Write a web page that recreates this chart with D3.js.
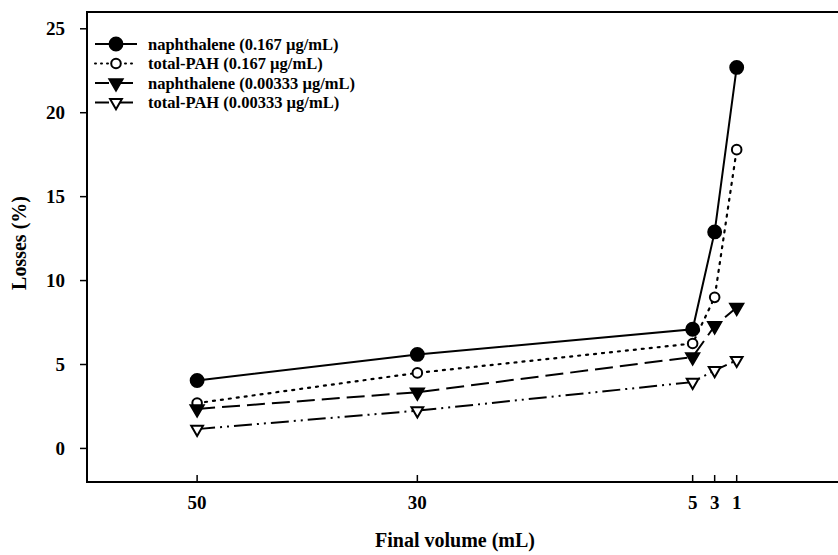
<!DOCTYPE html>
<html>
<head>
<meta charset="utf-8">
<script src="https://cdn.jsdelivr.net/npm/d3@7"></script>
<style>
  body { margin: 0; background: #fff; }
  text { font-family: "Liberation Serif", "DejaVu Serif", serif; font-weight: bold; fill: #000; }
</style>
</head>
<body>
<div id="chart"></div>
<script>
// final volumes (mL) on the x axis
var volumes = [50, 30, 5, 3, 1];
var xTicks = [50, 30, 5, 3, 1];
var yTicks = [0, 5, 10, 15, 20, 25];

// losses (%)
var naph167 = [4.05, 5.6, 7.1, 12.9, 22.7];
var pah167 = [2.7, 4.5, 6.25, 9.0, 17.8];
var naph333 = [2.35, 3.35, 5.45, 7.3, 8.4];
var pah333 = [1.15, 2.25, 3.95, 4.65, 5.25];

var seriesNames = [
    "naphthalene (0.167 \u00b5g/mL)",
    "total-PAH (0.167 \u00b5g/mL)",
    "naphthalene (0.00333 \u00b5g/mL)",
    "total-PAH (0.00333 \u00b5g/mL)"
];

var width = 838, height = 555;
var plot = {left: 87, top: 12, right: 838, bottom: 482};

var svg = d3.select("#chart").append("svg")
    .attr("width", width)
    .attr("height", height);

var x = d3.scaleLinear().domain([60, -8.2]).range([plot.left, plot.right]);
var y = d3.scaleLinear().domain([-2, 26]).range([plot.bottom, plot.top]);

// line styles and markers for each series
var styles = [
    {values: naph167, dash: null, symbol: d3.symbolCircle, size: 130, fill: "#000"},
    {values: pah167, dash: "2,6", symbol: d3.symbolCircle, size: 72, fill: "#fff"},
    {values: naph333, dash: "18,7", symbol: d3.symbolTriangle, size: 75, fill: "#000"},
    {values: pah333, dash: "18,5,2,5,2,5", symbol: d3.symbolTriangle, size: 60, fill: "#fff"}
];

// frame: left, bottom and top lines
svg.append("path")
    .attr("d", "M" + plot.right + "," + plot.top + "H" + plot.left + "V" + plot.bottom + "H" + plot.right)
    .attr("fill", "none")
    .attr("stroke", "#000")
    .attr("stroke-width", 2);

// y ticks point out, x ticks point in
svg.selectAll(".ytick").data(yTicks).enter().append("line")
    .attr("x1", plot.left - 7).attr("x2", plot.left)
    .attr("y1", function(d) { return y(d); })
    .attr("y2", function(d) { return y(d); })
    .attr("stroke", "#000").attr("stroke-width", 1.5);

svg.selectAll(".ylab").data(yTicks).enter().append("text")
    .attr("x", plot.left - 22)
    .attr("y", function(d) { return y(d); })
    .attr("dy", "0.35em")
    .attr("text-anchor", "end")
    .style("font-size", "19px")
    .text(function(d) { return d; });

svg.selectAll(".xtick").data(xTicks).enter().append("line")
    .attr("x1", function(d) { return x(d); })
    .attr("x2", function(d) { return x(d); })
    .attr("y1", plot.bottom).attr("y2", plot.bottom - 7)
    .attr("stroke", "#000").attr("stroke-width", 1.5);

svg.selectAll(".xlab").data(xTicks).enter().append("text")
    .attr("x", function(d) { return x(d); })
    .attr("y", 509)
    .attr("text-anchor", "middle")
    .style("font-size", "19px")
    .text(function(d) { return d; });

// axis titles
svg.append("text")
    .attr("x", 455).attr("y", 547)
    .attr("text-anchor", "middle")
    .style("font-size", "20px")
    .text("Final volume (mL)");

svg.append("text")
    .attr("transform", "translate(26,243) rotate(-90)")
    .attr("text-anchor", "middle")
    .style("font-size", "20px")
    .text("Losses (%)");

var line = d3.line()
    .x(function(d, i) { return x(volumes[i]); })
    .y(function(d) { return y(d); });

styles.forEach(function(s) {
    svg.append("path")
        .attr("d", line(s.values))
        .attr("fill", "none")
        .attr("stroke", "#000")
        .attr("stroke-width", s.dash === "2,6" ? 2.2 : 2)
        .attr("stroke-linecap", s.dash === "2,6" ? "round" : "butt")
        .attr("stroke-dasharray", s.dash);

    svg.selectAll(null).data(s.values).enter().append("path")
        .attr("d", d3.symbol().type(s.symbol).size(s.size))
        .attr("transform", function(d, i) {
            var r = s.symbol === d3.symbolTriangle ? " rotate(180)" : "";
            return "translate(" + x(volumes[i]) + "," + y(d) + ")" + r;
        })
        .attr("fill", s.fill)
        .attr("stroke", "#000")
        .attr("stroke-width", 2);
});

// legend
var legend = svg.append("g").attr("transform", "translate(95,44)");
styles.forEach(function(s, i) {
    var g = legend.append("g").attr("transform", "translate(0," + (i * 19.5) + ")");
    g.append("line")
        .attr("x1", 0).attr("x2", 42)
        .attr("stroke", "#000")
        .attr("stroke-width", 2)
        .attr("stroke-linecap", s.dash === "2,6" ? "round" : "butt")
        .attr("stroke-dasharray", s.dash === "2,6" ? "1,5" : (s.dash ? "14,4,2,4" : null));
    g.append("path")
        .attr("d", d3.symbol().type(s.symbol).size(s.size))
        .attr("transform", "translate(21,0)" + (s.symbol === d3.symbolTriangle ? " rotate(180)" : ""))
        .attr("fill", s.fill)
        .attr("stroke", "#000")
        .attr("stroke-width", 2);
    g.append("text")
        .attr("x", 53).attr("dy", "0.35em")
        .style("font-size", "16.5px")
        .text(seriesNames[i]);
});
</script>
</body>
</html>
